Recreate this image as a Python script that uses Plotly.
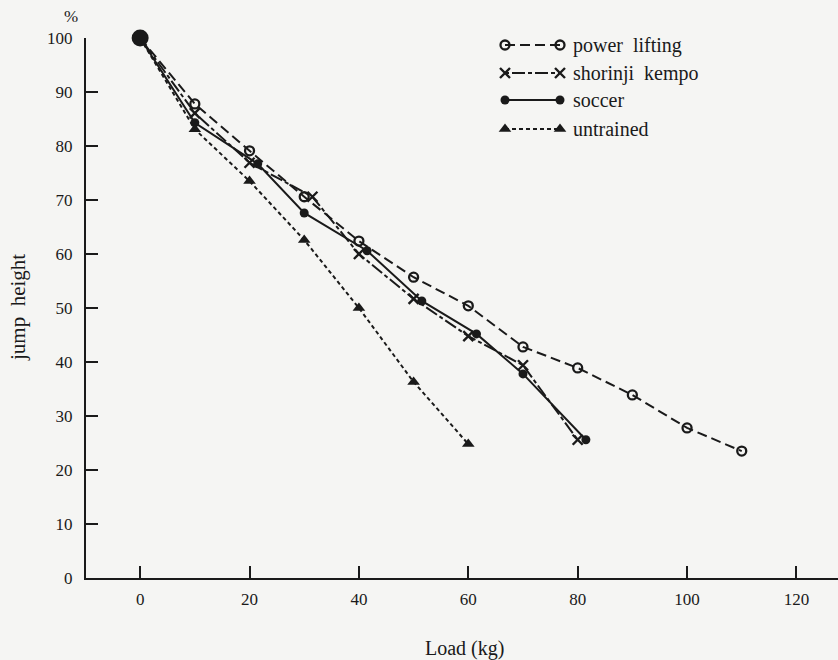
import plotly.graph_objects as go

# ---- data ----
start_load = [0]
start_height = [100]

power_load = [0, 10, 20, 30, 40, 50, 60, 70, 80, 90, 100, 110]
power_height = [100, 87.8, 79.1, 70.6, 62.4, 55.7, 50.4, 42.8, 38.9, 33.9, 27.8, 23.5]

kempo_load = [0, 10, 20, 31.5, 40, 50, 60, 70, 80]
kempo_height = [100, 86.1, 76.9, 70.6, 60.0, 51.7, 44.8, 39.4, 25.6]

soccer_load = [0, 10, 21.5, 30, 41.5, 51.5, 61.5, 70, 81.5]
soccer_height = [100, 84.3, 76.7, 67.6, 60.6, 51.3, 45.2, 37.8, 25.6]

untrained_load = [0, 10, 20, 30, 40, 50, 60]
untrained_height = [100, 83.1, 73.5, 62.6, 50.0, 36.3, 24.8]

x_ticks = [0, 20, 40, 60, 80, 100, 120]
y_ticks = [0, 10, 20, 30, 40, 50, 60, 70, 80, 90, 100]

series_names = ["power\u00a0 lifting", "shorinji\u00a0 kempo", "soccer", "untrained"]

# ---- styling ----
INK = "#1a1a1a"
BG = "#f5f5f3"
FONT = "Liberation Serif, Times New Roman, serif"

styles = [
    dict(dash="10px,5px", symbol="circle-open", size=9, mline=2.3),
    dict(dash="4px,3px,13px,3px", symbol="x-thin-open", size=10, mline=2.4),
    dict(dash="solid", symbol="circle", size=9, mline=0),
    dict(dash="4px,3px", symbol="triangle-up", size=11, mline=0),
]
data = [
    (power_load, power_height),
    (kempo_load, kempo_height),
    (soccer_load, soccer_height),
    (untrained_load, untrained_height),
]

fig = go.Figure()

for (xs, ys), st, name in zip(data, styles, series_names):
    fig.add_trace(go.Scatter(
        x=xs, y=ys, mode="lines", showlegend=False, cliponaxis=False,
        line=dict(color=INK, width=2, dash=st["dash"]),
    ))
    fig.add_trace(go.Scatter(
        x=xs[1:], y=ys[1:], mode="markers", showlegend=False, cliponaxis=False,
        marker=dict(symbol=st["symbol"], size=st["size"], color=INK,
                    line=dict(color=INK, width=st["mline"])),
    ))

fig.add_trace(go.Scatter(
    x=start_load, y=start_height, mode="markers", showlegend=False, cliponaxis=False,
    marker=dict(symbol="circle", size=17, color=INK),
))

# ---- hand-drawn style legend on an overlay axis in pixel units ----
leg_rows = [45, 73, 100, 129]
leg_x0, leg_x1, leg_tx = 505, 560, 571
for row, st, name in zip(leg_rows, styles, series_names):
    fig.add_trace(go.Scatter(
        x=[leg_x0, leg_x1], y=[row, row], xaxis="x2", yaxis="y2",
        mode="lines+markers", showlegend=False, cliponaxis=False,
        line=dict(color=INK, width=2, dash=st["dash"]),
        marker=dict(symbol=st["symbol"], size=st["size"], color=INK,
                    line=dict(color=INK, width=st["mline"])),
    ))
    fig.add_annotation(x=leg_tx, y=row, xref="x2", yref="y2", text=name,
                       showarrow=False, xanchor="left", yanchor="middle",
                       font=dict(family=FONT, size=20, color=INK))

L, R, T, B = 86, 0, 38, 82
W, H = 838, 660
pw, ph = W - L - R, H - T - B

fig.update_layout(
    width=W, height=H,
    margin=dict(l=L, r=R, t=T, b=B),
    paper_bgcolor=BG, plot_bgcolor=BG,
    font=dict(family=FONT, size=17, color=INK),
    xaxis=dict(
        range=[-9.9, 127.6], tickvals=x_ticks, ticktext=[str(v) for v in x_ticks],
        showgrid=False, zeroline=False, showline=True, linecolor=INK, linewidth=2.2,
        ticks="inside", ticklen=12, tickwidth=2, tickcolor=INK,
        tickfont=dict(family=FONT, size=17, color=INK), ticklabelstandoff=4,
    ),
    yaxis=dict(
        range=[0, 100], tickvals=y_ticks, ticktext=[str(v) for v in y_ticks],
        showgrid=False, zeroline=False, showline=True, linecolor=INK, linewidth=2.2,
        ticks="inside", ticklen=12, tickwidth=2, tickcolor=INK,
        tickfont=dict(family=FONT, size=17, color=INK), ticklabelstandoff=8,
    ),
    xaxis2=dict(range=[L, W - R], overlaying="x", visible=False, fixedrange=True),
    yaxis2=dict(range=[H - B, T], overlaying="y", visible=False, fixedrange=True),
)

fig.add_annotation(x=(464 - L) / pw, y=(H - B - 648) / ph, xref="paper", yref="paper",
                   text="Load (kg)", showarrow=False, xanchor="center", yanchor="middle",
                   font=dict(family=FONT, size=20, color=INK))
fig.add_annotation(x=(18 - L) / pw, y=(H - B - 308) / ph, xref="paper", yref="paper",
                   text="jump\u00a0 height", showarrow=False, textangle=-90,
                   xanchor="center", yanchor="middle",
                   font=dict(family=FONT, size=21, color=INK))
fig.add_annotation(x=(71 - L) / pw, y=(H - B - 17) / ph, xref="paper", yref="paper",
                   text="%", showarrow=False, xanchor="center", yanchor="middle",
                   font=dict(family=FONT, size=17, color=INK))

fig.write_html("out.html",
               config={"displayModeBar": False},
               post_script="document.body.style.margin='0';"
                           "document.body.style.background='" + BG + "';")
